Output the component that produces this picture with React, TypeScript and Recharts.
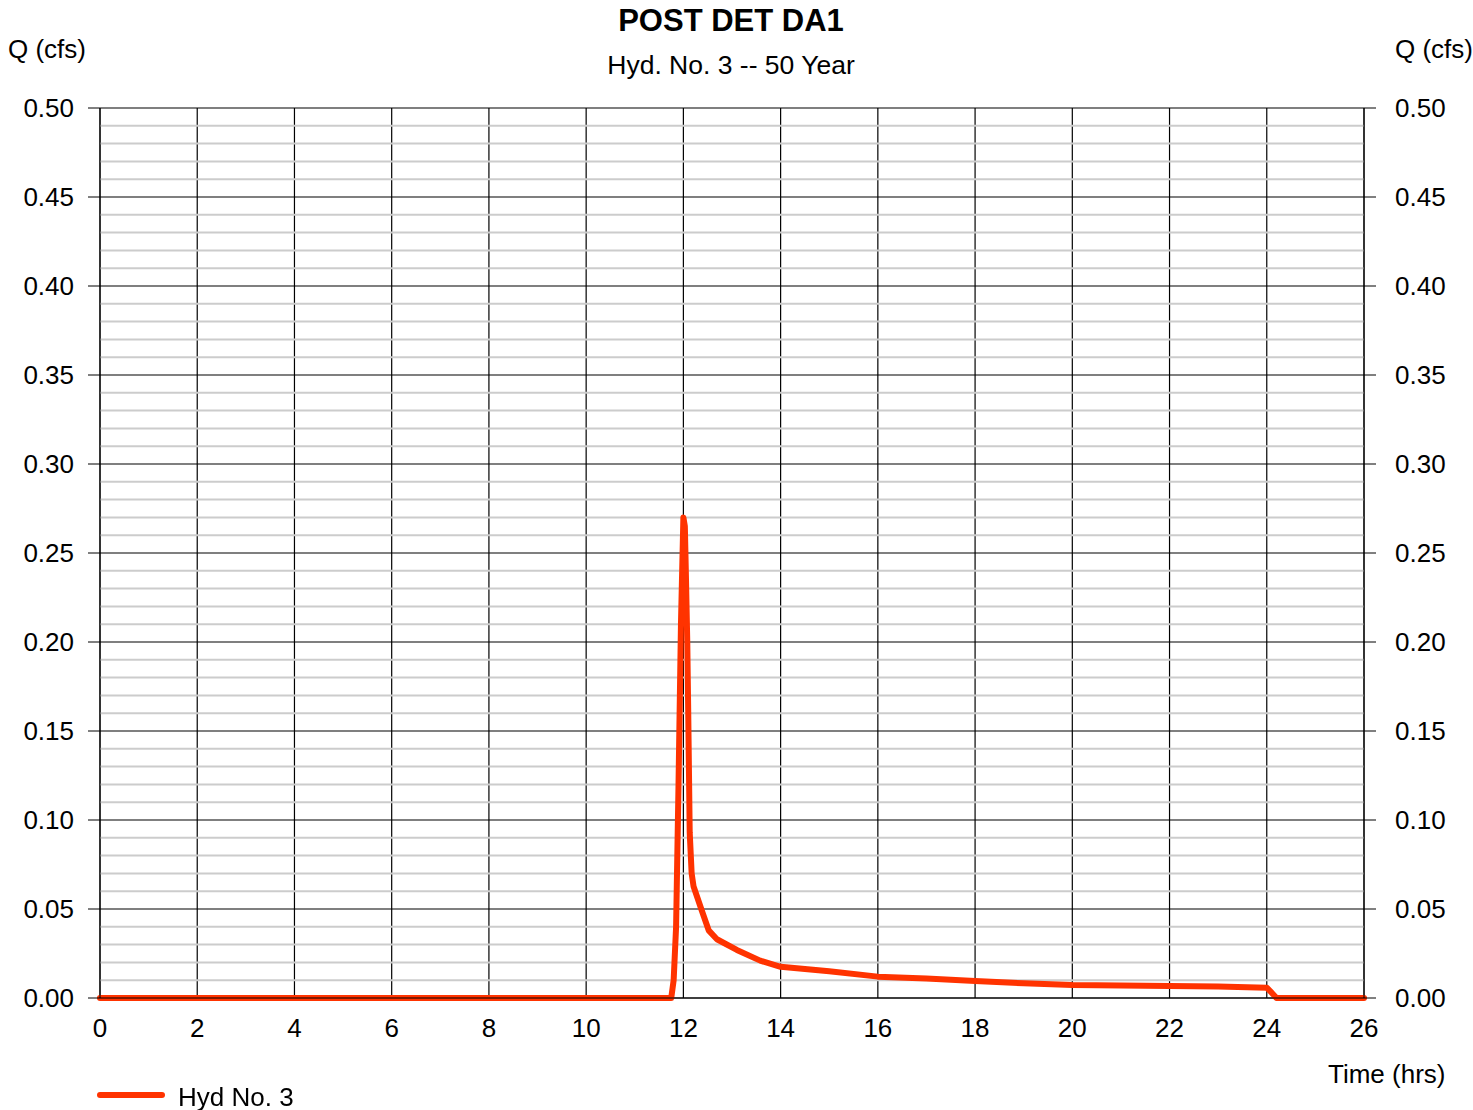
import React from "react";
import {
  ComposedChart,
  Line,
  XAxis,
  YAxis,
  CartesianGrid,
  ReferenceLine,
} from "recharts";

const hours = [
  0, 11.7, 11.75, 11.8, 11.85, 11.9, 11.95, 12.0, 12.03, 12.05, 12.08, 12.1,
  12.13, 12.17, 12.21, 12.38, 12.52, 12.69, 13.1, 13.58, 14.0, 15.0, 16.0,
  17.0, 18.0, 19.0, 20.0, 21.0, 22.0, 23.0, 24.0, 24.1, 24.2, 26,
];
const flow = [
  0, 0, 0, 0.01, 0.04, 0.12, 0.21, 0.27, 0.265, 0.24, 0.2, 0.16, 0.093, 0.07,
  0.0626, 0.049, 0.038, 0.033, 0.027, 0.021, 0.0175, 0.015, 0.012, 0.011,
  0.0095, 0.0083, 0.0073, 0.007, 0.0067, 0.0065, 0.0058, 0.003, 0, 0,
];

const xTicks = [0, 2, 4, 6, 8, 10, 12, 14, 16, 18, 20, 22, 24, 26];
const yTicks = [0, 0.05, 0.1, 0.15, 0.2, 0.25, 0.3, 0.35, 0.4, 0.45, 0.5];
const minorTicks = Array.from({ length: 51 }, (_, i) => i / 100).filter(
  (_, i) => i % 5 !== 0
);

const data = hours.map((t, i) => ({ t, q: flow[i] }));

const FONT = "'Liberation Sans', Arial, sans-serif";
const RED = "#ff3300";

const text = (extra: React.CSSProperties): React.CSSProperties => ({
  position: "absolute",
  fontFamily: FONT,
  fontSize: 26,
  color: "#000",
  whiteSpace: "nowrap",
  lineHeight: 1,
  ...extra,
});

export default function App() {
  return (
    <div
      style={{
        position: "fixed",
        left: 0,
        top: 0,
        width: 1473,
        height: 1110,
        background: "#fff",
      }}
    >
      <ComposedChart
        width={1473}
        height={1110}
        data={data}
        margin={{ top: 108, right: 10, left: 10, bottom: 72 }}
      >
        {minorTicks.map((v) => (
          <ReferenceLine
            key={v}
            yAxisId="left"
            y={v}
            stroke="#cccccc"
            strokeWidth={2}
          />
        ))}
        <CartesianGrid
          yAxisId="left"
          stroke="#000"
          strokeWidth={1.2}
          horizontalValues={yTicks}
          verticalValues={xTicks}
        />
        <XAxis
          dataKey="t"
          type="number"
          domain={[0, 26]}
          ticks={xTicks}
          interval={0}
          height={40}
          tickLine={false}
          axisLine={{ stroke: "#000" }}
          tickSize={12}
          tickMargin={9}
          tick={{ fill: "#000", fontSize: 26, fontFamily: FONT }}
        />
        <YAxis
          yAxisId="left"
          type="number"
          domain={[0, 0.5]}
          ticks={yTicks}
          interval={0}
          width={90}
          tickSize={12}
          tickMargin={14}
          axisLine={{ stroke: "#000" }}
          tickLine={{ stroke: "#000" }}
          tickFormatter={(v: number) => v.toFixed(2)}
          tick={{ fill: "#000", fontSize: 26, fontFamily: FONT }}
        />
        <YAxis
          yAxisId="right"
          orientation="right"
          type="number"
          domain={[0, 0.5]}
          ticks={yTicks}
          interval={0}
          width={99}
          tickSize={12}
          tickMargin={19}
          axisLine={{ stroke: "#000" }}
          tickLine={{ stroke: "#000" }}
          tickFormatter={(v: number) => v.toFixed(2)}
          tick={{ fill: "#000", fontSize: 26, fontFamily: FONT }}
        />
        <Line
          yAxisId="right"
          type="linear"
          dataKey="q"
          stroke="none"
          dot={false}
          activeDot={false}
          legendType="none"
          isAnimationActive={false}
        />
        <Line
          yAxisId="left"
          type="linear"
          dataKey="q"
          stroke={RED}
          strokeWidth={6}
          strokeLinejoin="round"
          strokeLinecap="round"
          dot={false}
          isAnimationActive={false}
        />
      </ComposedChart>

      <div
        style={text({
          left: 0,
          width: 1462,
          top: 5,
          textAlign: "center",
          fontSize: 31,
          fontWeight: "bold",
        })}
      >
        POST DET DA1
      </div>
      <div
        style={text({
          left: 0,
          width: 1462,
          top: 52,
          textAlign: "center",
          fontSize: 26.5,
        })}
      >
        Hyd. No. 3 -- 50 Year
      </div>
      <div style={text({ left: 8, top: 36 })}>Q (cfs)</div>
      <div style={text({ left: 1395, top: 36 })}>Q (cfs)</div>
      <div style={text({ left: 1328, top: 1061 })}>Time (hrs)</div>

      <div style={{ position: "absolute", left: 96, top: 1083 }}>
        <svg width={72} height={24}>
          <line
            x1={4}
            y1={12}
            x2={66}
            y2={12}
            stroke={RED}
            strokeWidth={6}
            strokeLinecap="round"
          />
        </svg>
      </div>
      <div style={text({ left: 178, top: 1084 })}>Hyd No. 3</div>
    </div>
  );
}
